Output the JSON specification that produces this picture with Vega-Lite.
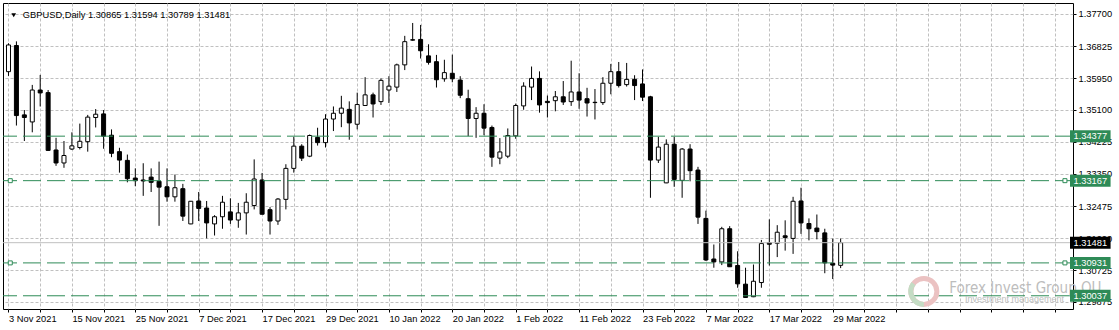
{
  "$schema": "https://vega.github.io/schema/vega-lite/v6.json",
  "width": 1070,
  "height": 306,
  "autosize": {"type": "none"},
  "padding": {"left": 3, "top": 3, "right": 46, "bottom": 21},
  "background": "white",
  "config": {
    "view": {"stroke": "black", "strokeWidth": 1},
    "font": "Liberation Sans",
    "axis": {"labelFont": "Liberation Sans", "labelOverlap": false, "labelFlush": false, "labelBound": false}
  },
  "datasets": {
    "bars": [
      {"i":0,"d":"2021-11-03","o":1.36131,"h":1.36902,"l":1.36016,"c":1.36857},
      {"i":1,"d":"2021-11-04","o":1.36842,"h":1.36955,"l":1.34666,"c":1.34937},
      {"i":2,"d":"2021-11-05","o":1.34956,"h":1.35087,"l":1.34246,"c":1.34885},
      {"i":3,"d":"2021-11-08","o":1.34764,"h":1.35771,"l":1.34482,"c":1.35632},
      {"i":4,"d":"2021-11-09","o":1.35632,"h":1.36042,"l":1.35185,"c":1.35553},
      {"i":5,"d":"2021-11-10","o":1.35561,"h":1.35632,"l":1.33982,"c":1.33990},
      {"i":6,"d":"2021-11-11","o":1.34001,"h":1.34332,"l":1.33570,"c":1.33648},
      {"i":7,"d":"2021-11-12","o":1.33648,"h":1.34246,"l":1.33517,"c":1.33851},
      {"i":8,"d":"2021-11-15","o":1.34027,"h":1.34482,"l":1.34001,"c":1.34114},
      {"i":9,"d":"2021-11-16","o":1.34069,"h":1.34719,"l":1.34017,"c":1.34238},
      {"i":10,"d":"2021-11-17","o":1.34227,"h":1.34956,"l":1.33956,"c":1.34895},
      {"i":11,"d":"2021-11-18","o":1.34885,"h":1.35114,"l":1.34614,"c":1.34974},
      {"i":12,"d":"2021-11-19","o":1.34982,"h":1.35087,"l":1.34035,"c":1.34377},
      {"i":13,"d":"2021-11-22","o":1.34403,"h":1.34561,"l":1.33806,"c":1.33911},
      {"i":14,"d":"2021-11-23","o":1.33956,"h":1.34061,"l":1.33385,"c":1.33727},
      {"i":15,"d":"2021-11-24","o":1.33719,"h":1.33877,"l":1.33122,"c":1.33220},
      {"i":16,"d":"2021-11-25","o":1.33238,"h":1.33501,"l":1.33017,"c":1.33167},
      {"i":17,"d":"2021-11-26","o":1.33186,"h":1.33641,"l":1.32754,"c":1.33159},
      {"i":18,"d":"2021-11-29","o":1.33264,"h":1.33501,"l":1.32859,"c":1.33122},
      {"i":19,"d":"2021-11-30","o":1.33149,"h":1.33685,"l":1.31939,"c":1.32991},
      {"i":20,"d":"2021-12-01","o":1.33001,"h":1.33501,"l":1.32596,"c":1.32728},
      {"i":21,"d":"2021-12-02","o":1.32728,"h":1.33333,"l":1.32596,"c":1.32975},
      {"i":22,"d":"2021-12-03","o":1.32949,"h":1.33080,"l":1.32070,"c":1.32202},
      {"i":23,"d":"2021-12-06","o":1.31991,"h":1.32615,"l":1.31983,"c":1.32607},
      {"i":24,"d":"2021-12-07","o":1.32615,"h":1.32859,"l":1.32070,"c":1.32412},
      {"i":25,"d":"2021-12-08","o":1.32423,"h":1.32615,"l":1.31597,"c":1.32018},
      {"i":26,"d":"2021-12-09","o":1.31991,"h":1.32228,"l":1.31676,"c":1.32186},
      {"i":27,"d":"2021-12-10","o":1.32186,"h":1.32754,"l":1.31860,"c":1.32581},
      {"i":28,"d":"2021-12-13","o":1.32318,"h":1.32686,"l":1.31991,"c":1.32097},
      {"i":29,"d":"2021-12-14","o":1.32097,"h":1.32562,"l":1.31886,"c":1.32291},
      {"i":30,"d":"2021-12-15","o":1.32291,"h":1.32825,"l":1.31702,"c":1.32581},
      {"i":31,"d":"2021-12-16","o":1.32491,"h":1.33746,"l":1.32386,"c":1.33212},
      {"i":32,"d":"2021-12-17","o":1.33186,"h":1.33378,"l":1.32247,"c":1.32254},
      {"i":33,"d":"2021-12-20","o":1.32378,"h":1.32449,"l":1.31702,"c":1.32070},
      {"i":34,"d":"2021-12-21","o":1.32070,"h":1.32694,"l":1.31965,"c":1.32667},
      {"i":35,"d":"2021-12-22","o":1.32659,"h":1.33614,"l":1.32386,"c":1.33501},
      {"i":36,"d":"2021-12-23","o":1.33501,"h":1.34359,"l":1.33385,"c":1.34106},
      {"i":37,"d":"2021-12-24","o":1.34106,"h":1.34159,"l":1.33701,"c":1.33780},
      {"i":38,"d":"2021-12-27","o":1.33833,"h":1.34422,"l":1.33806,"c":1.34395},
      {"i":39,"d":"2021-12-28","o":1.34343,"h":1.34606,"l":1.34122,"c":1.34201},
      {"i":40,"d":"2021-12-29","o":1.34201,"h":1.34974,"l":1.34069,"c":1.34843},
      {"i":41,"d":"2021-12-30","o":1.34843,"h":1.35185,"l":1.34516,"c":1.35000},
      {"i":42,"d":"2021-12-31","o":1.35000,"h":1.35474,"l":1.34622,"c":1.35140},
      {"i":43,"d":"2022-01-03","o":1.35106,"h":1.35324,"l":1.34280,"c":1.34737},
      {"i":44,"d":"2022-01-04","o":1.34701,"h":1.35561,"l":1.34561,"c":1.35237},
      {"i":45,"d":"2022-01-05","o":1.35211,"h":1.35981,"l":1.35200,"c":1.35500},
      {"i":46,"d":"2022-01-06","o":1.35500,"h":1.35561,"l":1.34885,"c":1.35253},
      {"i":47,"d":"2022-01-07","o":1.35316,"h":1.35947,"l":1.35226,"c":1.35895},
      {"i":48,"d":"2022-01-10","o":1.35632,"h":1.36008,"l":1.35279,"c":1.35737},
      {"i":49,"d":"2022-01-11","o":1.35711,"h":1.36350,"l":1.35579,"c":1.36316},
      {"i":50,"d":"2022-01-12","o":1.36316,"h":1.37105,"l":1.36174,"c":1.36947},
      {"i":51,"d":"2022-01-13","o":1.36999,"h":1.37455,"l":1.36973,"c":1.36989},
      {"i":52,"d":"2022-01-14","o":1.37007,"h":1.37402,"l":1.36489,"c":1.36700},
      {"i":53,"d":"2022-01-17","o":1.36560,"h":1.36876,"l":1.36323,"c":1.36384},
      {"i":54,"d":"2022-01-18","o":1.36402,"h":1.36587,"l":1.35700,"c":1.35911},
      {"i":55,"d":"2022-01-19","o":1.35937,"h":1.36455,"l":1.35858,"c":1.36105},
      {"i":56,"d":"2022-01-20","o":1.36087,"h":1.36594,"l":1.35842,"c":1.35937},
      {"i":57,"d":"2022-01-21","o":1.35903,"h":1.36008,"l":1.35411,"c":1.35490},
      {"i":58,"d":"2022-01-24","o":1.35395,"h":1.35640,"l":1.34377,"c":1.34858},
      {"i":59,"d":"2022-01-25","o":1.34858,"h":1.35166,"l":1.34332,"c":1.35000},
      {"i":60,"d":"2022-01-26","o":1.35000,"h":1.35245,"l":1.34403,"c":1.34595},
      {"i":61,"d":"2022-01-27","o":1.34614,"h":1.34666,"l":1.33543,"c":1.33806},
      {"i":62,"d":"2022-01-28","o":1.33780,"h":1.34324,"l":1.33614,"c":1.33948},
      {"i":63,"d":"2022-01-31","o":1.33833,"h":1.34587,"l":1.33780,"c":1.34395},
      {"i":64,"d":"2022-02-01","o":1.34385,"h":1.35263,"l":1.34306,"c":1.35211},
      {"i":65,"d":"2022-02-02","o":1.35200,"h":1.35842,"l":1.35095,"c":1.35737},
      {"i":66,"d":"2022-02-03","o":1.35711,"h":1.36271,"l":1.35358,"c":1.35947},
      {"i":67,"d":"2022-02-04","o":1.35947,"h":1.36139,"l":1.35016,"c":1.35226},
      {"i":68,"d":"2022-02-07","o":1.35324,"h":1.35482,"l":1.34885,"c":1.35290},
      {"i":69,"d":"2022-02-08","o":1.35342,"h":1.35605,"l":1.35053,"c":1.35448},
      {"i":70,"d":"2022-02-09","o":1.35448,"h":1.35876,"l":1.35226,"c":1.35306},
      {"i":71,"d":"2022-02-10","o":1.35316,"h":1.36429,"l":1.35200,"c":1.35579},
      {"i":72,"d":"2022-02-11","o":1.35579,"h":1.36087,"l":1.35121,"c":1.35358},
      {"i":73,"d":"2022-02-14","o":1.35395,"h":1.35692,"l":1.34911,"c":1.35279},
      {"i":74,"d":"2022-02-15","o":1.35298,"h":1.35658,"l":1.34832,"c":1.35290},
      {"i":75,"d":"2022-02-16","o":1.35290,"h":1.35981,"l":1.35226,"c":1.35816},
      {"i":76,"d":"2022-02-17","o":1.35816,"h":1.36342,"l":1.35516,"c":1.36131},
      {"i":77,"d":"2022-02-18","o":1.36131,"h":1.36394,"l":1.35700,"c":1.35753},
      {"i":78,"d":"2022-02-21","o":1.35779,"h":1.36368,"l":1.35726,"c":1.35921},
      {"i":79,"d":"2022-02-22","o":1.35921,"h":1.36034,"l":1.35358,"c":1.35753},
      {"i":80,"d":"2022-02-23","o":1.35797,"h":1.36192,"l":1.35332,"c":1.35437},
      {"i":81,"d":"2022-02-24","o":1.35448,"h":1.35474,"l":1.32702,"c":1.33727},
      {"i":82,"d":"2022-02-25","o":1.33727,"h":1.34359,"l":1.33648,"c":1.34080},
      {"i":83,"d":"2022-02-28","o":1.33107,"h":1.34290,"l":1.33100,"c":1.34159},
      {"i":84,"d":"2022-03-01","o":1.34159,"h":1.34359,"l":1.33001,"c":1.33201},
      {"i":85,"d":"2022-03-02","o":1.33175,"h":1.34054,"l":1.32702,"c":1.34027},
      {"i":86,"d":"2022-03-03","o":1.34027,"h":1.34159,"l":1.33149,"c":1.33438},
      {"i":87,"d":"2022-03-04","o":1.33456,"h":1.33543,"l":1.31991,"c":1.32175},
      {"i":88,"d":"2022-03-07","o":1.32141,"h":1.32352,"l":1.30984,"c":1.31010},
      {"i":89,"d":"2022-03-08","o":1.31037,"h":1.31431,"l":1.30800,"c":1.30958},
      {"i":90,"d":"2022-03-09","o":1.30958,"h":1.31912,"l":1.30871,"c":1.31860},
      {"i":91,"d":"2022-03-10","o":1.31860,"h":1.31931,"l":1.30820,"c":1.30826},
      {"i":92,"d":"2022-03-11","o":1.30860,"h":1.31247,"l":1.30255,"c":1.30361},
      {"i":93,"d":"2022-03-14","o":1.30353,"h":1.30800,"l":1.29985,"c":1.29992},
      {"i":94,"d":"2022-03-15","o":1.30011,"h":1.30887,"l":1.30000,"c":1.30432},
      {"i":95,"d":"2022-03-16","o":1.30397,"h":1.31555,"l":1.30255,"c":1.31457},
      {"i":96,"d":"2022-03-17","o":1.31484,"h":1.32115,"l":1.30860,"c":1.31439},
      {"i":97,"d":"2022-03-18","o":1.31465,"h":1.31957,"l":1.31089,"c":1.31765},
      {"i":98,"d":"2022-03-21","o":1.31668,"h":1.32089,"l":1.31265,"c":1.31623},
      {"i":99,"d":"2022-03-22","o":1.31597,"h":1.32728,"l":1.31176,"c":1.32607},
      {"i":100,"d":"2022-03-23","o":1.32615,"h":1.32975,"l":1.31720,"c":1.32018},
      {"i":101,"d":"2022-03-24","o":1.32002,"h":1.32141,"l":1.31544,"c":1.31860},
      {"i":102,"d":"2022-03-25","o":1.31878,"h":1.32247,"l":1.31571,"c":1.31781},
      {"i":103,"d":"2022-03-28","o":1.31747,"h":1.31860,"l":1.30650,"c":1.30931},
      {"i":104,"d":"2022-03-29","o":1.30923,"h":1.31589,"l":1.30492,"c":1.30871},
      {"i":105,"d":"2022-03-30","o":1.30865,"h":1.31594,"l":1.30789,"c":1.31481}
    ],
    "levels": [
      {"v":1.34377,"kind":"level","sel":false},
      {"v":1.33167,"kind":"level","sel":true},
      {"v":1.30931,"kind":"level","sel":true},
      {"v":1.30037,"kind":"level","sel":false},
      {"v":1.31481,"kind":"bid","sel":false}
    ],
    "header": [
      {"t":"GBPUSD,Daily  1.30865 1.31594 1.30789 1.31481"}
    ],
    "brand": [
      {"name":"Forex Invest Group OU","sub":"Investment management"}
    ]
  },
  "layer": [
    {
      "data": {"name": "bars"},
      "mark": {"type": "rule", "color": "black", "strokeWidth": 1},
      "encoding": {
        "x": {
          "field": "i", "type": "quantitative",
          "scale": {"domain": [-0.0625, 133.6875], "nice": false, "zero": false},
          "axis": {
            "values": [0,4,8,12,16,20,24,28,32,36,40,44,48,52,56,60,64,68,72,76,80,84,88,92,96,100,104,108,112,116,120,124,128,132],
            "tickCount": 200,
            "labelExpr": "datum.value % 8 == 0 && datum.value <= 104 ? ['3 Nov 2021','15 Nov 2021','25 Nov 2021','7 Dec 2021','17 Dec 2021','29 Dec 2021','10 Jan 2022','20 Jan 2022','1 Feb 2022','11 Feb 2022','23 Feb 2022','7 Mar 2022','17 Mar 2022','29 Mar 2022'][datum.value / 8] : ''",
            "grid": true, "gridColor": "#c0c0c0", "gridDash": [3, 2], "gridWidth": 1,
            "domain": false, "ticks": true, "tickColor": "black", "tickSize": 3,
            "labelAlign": "left", "labelPadding": 2, "labelFontSize": 9.3, "labelColor": "black",
            "labelOverlap": false, "labelFlush": false, "labelBound": false, "title": null
          }
        },
        "y": {
          "field": "l", "type": "quantitative",
          "scale": {"domain": [1.298134, 1.378622], "nice": false, "zero": false},
          "axis": {
            "orient": "right",
            "values": [1.377, 1.36825, 1.3595, 1.351, 1.34225, 1.3335, 1.32475, 1.316, 1.30725, 1.29875],
            "tickCount": 200,
            "format": ".5f",
            "grid": true, "gridColor": "#c0c0c0", "gridDash": [3, 2], "gridWidth": 1,
            "domain": false, "ticks": true, "tickColor": "black", "tickSize": 3,
            "labelPadding": 2, "labelFontSize": 9.3, "labelColor": "black",
            "labelOverlap": false, "labelFlush": false, "labelBound": false, "title": null
          }
        },
        "y2": {"field": "h"}
      }
    },
    {
      "data": {"name": "bars"},
      "mark": {"type": "bar", "width": 4, "stroke": "black", "strokeWidth": 1},
      "encoding": {
        "x": {"field": "i", "type": "quantitative"},
        "y": {"field": "o", "type": "quantitative"},
        "y2": {"field": "c"},
        "fill": {"condition": {"test": "datum.c >= datum.o", "value": "white"}, "value": "black"}
      }
    },
    {
      "data": {"name": "levels"},
      "transform": [{"filter": "datum.kind == 'level'"}],
      "mark": {"type": "rule", "color": "#2e8b57", "strokeWidth": 1, "strokeDash": [18, 6]},
      "encoding": {"y": {"field": "v", "type": "quantitative"}}
    },
    {
      "data": {"name": "levels"},
      "transform": [{"filter": "datum.kind == 'bid'"}],
      "mark": {"type": "rule", "color": "#c0c0c0", "strokeWidth": 1},
      "encoding": {"y": {"field": "v", "type": "quantitative"}}
    },
    {
      "data": {"name": "levels"},
      "transform": [{"filter": "datum.sel"}],
      "mark": {"type": "point", "shape": "square", "size": 16, "filled": true, "fill": "white", "stroke": "#2e8b57", "strokeWidth": 1, "opacity": 1},
      "encoding": {"x": {"datum": 0.225, "type": "quantitative"}, "y": {"field": "v", "type": "quantitative"}}
    },
    {
      "data": {"name": "levels"},
      "transform": [{"filter": "datum.sel"}],
      "mark": {"type": "point", "shape": "square", "size": 16, "filled": true, "fill": "white", "stroke": "#2e8b57", "strokeWidth": 1, "opacity": 1},
      "encoding": {"x": {"datum": 133.3, "type": "quantitative"}, "y": {"field": "v", "type": "quantitative"}}
    },
    {
      "data": {"name": "brand"},
      "mark": {"type": "point", "shape": "circle", "size": 676, "filled": false, "stroke": "#ebc2c2", "strokeWidth": 5, "opacity": 1},
      "encoding": {"x": {"datum": 115.5, "type": "quantitative"}, "y": {"datum": 1.30156, "type": "quantitative"}}
    },
    {
      "data": {"name": "brand"},
      "mark": {"type": "point", "shape": "M 0 1 A 1 1 0 0 1 -0.8 -0.6", "size": 676, "filled": false, "stroke": "#c4dcc4", "strokeWidth": 5, "opacity": 1},
      "encoding": {"x": {"datum": 115.5, "type": "quantitative"}, "y": {"datum": 1.30156, "type": "quantitative"}}
    },
    {
      "data": {"name": "brand"},
      "mark": {"type": "text", "font": "DejaVu Sans Condensed", "fontSize": 15, "color": "#bdbdbd", "align": "left", "baseline": "alphabetic"},
      "encoding": {"x": {"datum": 118.7, "type": "quantitative"}, "y": {"datum": 1.30103, "type": "quantitative"}, "text": {"field": "name"}}
    },
    {
      "data": {"name": "brand"},
      "mark": {"type": "text", "font": "Liberation Sans", "fontSize": 9, "color": "#bdbdbd", "align": "left", "baseline": "alphabetic"},
      "encoding": {"x": {"datum": 120.7, "type": "quantitative"}, "y": {"datum": 1.29875, "type": "quantitative"}, "text": {"field": "sub"}}
    },
    {
      "data": {"name": "levels"},
      "mark": {"type": "bar", "orient": "horizontal", "size": 12},
      "encoding": {
        "x": {"datum": 133.94, "type": "quantitative"},
        "x2": {"datum": 139.06},
        "y": {"field": "v", "type": "quantitative"},
        "color": {"field": "kind", "type": "nominal", "scale": {"domain": ["level", "bid"], "range": ["#2e8b57", "#000000"]}, "legend": null}
      }
    },
    {
      "data": {"name": "levels"},
      "mark": {"type": "text", "color": "white", "fontSize": 9.3, "font": "Liberation Sans", "align": "center", "baseline": "middle"},
      "encoding": {
        "x": {"datum": 136.5, "type": "quantitative"},
        "y": {"field": "v", "type": "quantitative"},
        "text": {"field": "v", "type": "quantitative", "format": ".5f"}
      }
    },
    {
      "data": {"name": "header"},
      "mark": {"type": "point", "shape": "triangle-down", "size": 22, "filled": true, "color": "black", "opacity": 1},
      "encoding": {"x": {"datum": 0.66, "type": "quantitative"}, "y": {"datum": 1.37665, "type": "quantitative"}}
    },
    {
      "data": {"name": "header"},
      "mark": {"type": "text", "color": "black", "fontSize": 9.3, "font": "Liberation Sans", "align": "left", "baseline": "middle"},
      "encoding": {"x": {"datum": 1.81, "type": "quantitative"}, "y": {"datum": 1.3767, "type": "quantitative"}, "text": {"field": "t"}}
    }
  ]
}
